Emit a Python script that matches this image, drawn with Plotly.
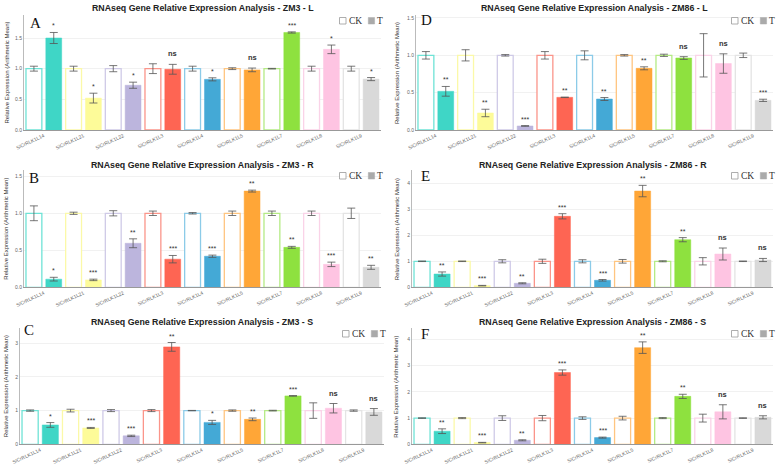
import plotly.graph_objects as go

W, H = 781, 468

genes = ["SlCrRLK1L14", "SlCrRLK1L21", "SlCrRLK1L22", "SlCrRLK1L3", "SlCrRLK1L4",
         "SlCrRLK1L5", "SlCrRLK1L7", "SlCrRLK1L8", "SlCrRLK1L9"]
gene_colors = ["#3FD6C6", "#FDFB99", "#BCB5DD", "#FE6553", "#44A9D6",
               "#FFA637", "#8EE13F", "#FEC4E2", "#D9D9D9"]
ck_line_colors = ["#6FE3D6", "#FBF9A8", "#CFCAE7", "#FB958A", "#8CCBE8",
                  "#FFC580", "#B5EB85", "#FAD3E8", "#E4E4E4"]

titles = ["RNAseq Gene Relative Expression Analysis - ZM3 - L",
          "RNAseq Gene Relative Expression Analysis - ZM3 - R",
          "RNAseq Gene Relative Expression Analysis - ZM3 - S",
          "RNAseq Gene Relative Expression Analysis - ZM86 - L",
          "RNAseq Gene Relative Expression Analysis - ZM86 - R",
          "RNAseq Gene Relative Expression Analysis - ZM86 - S"]
letters = ["A", "B", "C", "D", "E", "F"]

# ZM3 - L
zm3_l_ck = [1.0, 1.0, 1.0, 1.0, 1.0, 1.0, 1.0, 1.0, 1.0]
zm3_l_ck_err = [0.04, 0.04, 0.05, 0.08, 0.04, 0.015, 0.005, 0.04, 0.04]
zm3_l_t = [1.50, 0.52, 0.73, 0.99, 0.826, 0.98, 1.59, 1.315, 0.83]
zm3_l_t_err = [0.09, 0.08, 0.05, 0.08, 0.025, 0.03, 0.01, 0.07, 0.025]
zm3_l_sig = ["*", "*", "*", "ns", "*", "ns", "***", "*", "*"]

# ZM3 - R
zm3_r_ck = [1.0, 1.0, 1.0, 1.0, 1.0, 1.0, 1.0, 1.0, 1.0]
zm3_r_ck_err = [0.10, 0.015, 0.035, 0.03, 0.01, 0.03, 0.03, 0.03, 0.07]
zm3_r_t = [0.11, 0.10, 0.595, 0.38, 0.42, 1.30, 0.54, 0.31, 0.27]
zm3_r_t_err = [0.025, 0.01, 0.06, 0.05, 0.015, 0.013, 0.013, 0.03, 0.027]
zm3_r_sig = ["*", "***", "**", "***", "***", "**", "**", "***", "**"]

# ZM3 - S
zm3_s_ck = [1.0, 1.0, 1.0, 1.0, 1.0, 1.0, 1.0, 1.0, 1.0]
zm3_s_ck_err = [0.02, 0.04, 0.03, 0.03, 0.005, 0.02, 0.01, 0.23, 0.02]
zm3_s_t = [0.574, 0.485, 0.25, 2.89, 0.65, 0.74, 1.436, 1.07, 0.96]
zm3_s_t_err = [0.07, 0.015, 0.02, 0.13, 0.06, 0.04, 0.01, 0.14, 0.10]
zm3_s_sig = ["*", "***", "***", "**", "*", "**", "***", "ns", "ns"]

# ZM86 - L
zm86_l_ck = [1.0, 1.0, 1.0, 1.0, 1.0, 1.0, 1.0, 1.0, 1.0]
zm86_l_ck_err = [0.05, 0.075, 0.01, 0.05, 0.06, 0.01, 0.015, 0.29, 0.03]
zm86_l_t = [0.518, 0.228, 0.054, 0.4375, 0.415, 0.826, 0.964, 0.89, 0.397]
zm86_l_t_err = [0.065, 0.05, 0.005, 0.003, 0.02, 0.02, 0.018, 0.13, 0.015]
zm86_l_sig = ["**", "**", "***", "**", "**", "**", "ns", "ns", "***"]

# ZM86 - R
zm86_r_ck = [1.0, 1.0, 1.0, 1.0, 1.0, 1.0, 1.0, 1.0, 1.0]
zm86_r_ck_err = [0.01, 0.01, 0.06, 0.08, 0.06, 0.07, 0.02, 0.14, 0.01]
zm86_r_t = [0.51, 0.064, 0.154, 2.73, 0.27, 3.70, 1.83, 1.28, 1.05]
zm86_r_t_err = [0.08, 0.01, 0.02, 0.10, 0.03, 0.22, 0.08, 0.23, 0.06]
zm86_r_sig = ["**", "***", "**", "***", "***", "**", "**", "ns", "ns"]

# ZM86 - S
zm86_s_ck = [1.0, 1.0, 1.0, 1.0, 1.0, 1.0, 1.0, 1.0, 1.0]
zm86_s_ck_err = [0.01, 0.02, 0.09, 0.10, 0.05, 0.07, 0.02, 0.15, 0.01]
zm86_s_t = [0.50, 0.064, 0.153, 2.74, 0.255, 3.69, 1.83, 1.24, 1.03]
zm86_s_t_err = [0.09, 0.01, 0.02, 0.10, 0.02, 0.22, 0.08, 0.27, 0.06]
zm86_s_sig = ["**", "***", "**", "***", "***", "**", "**", "ns", "ns"]

panels_data = [
    (zm3_l_ck, zm3_l_ck_err, zm3_l_t, zm3_l_t_err, zm3_l_sig),
    (zm3_r_ck, zm3_r_ck_err, zm3_r_t, zm3_r_t_err, zm3_r_sig),
    (zm3_s_ck, zm3_s_ck_err, zm3_s_t, zm3_s_t_err, zm3_s_sig),
    (zm86_l_ck, zm86_l_ck_err, zm86_l_t, zm86_l_t_err, zm86_l_sig),
    (zm86_r_ck, zm86_r_ck_err, zm86_r_t, zm86_r_t_err, zm86_r_sig),
    (zm86_s_ck, zm86_s_ck_err, zm86_s_t, zm86_s_t_err, zm86_s_sig),
]

# layout (pixel positions of each panel)
layout_px = [
    dict(x0=24, x1=381, yt=15, yb=130, ymax=1.875, dtick=0.5, fmt=".1f", ty=8, lx=28, ly=22.7),
    dict(x0=24, x1=381, yt=170, yb=287.3, ymax=1.585, dtick=0.5, fmt=".1f", ty=165, lx=27, ly=178),
    dict(x0=20, x1=384, yt=328, yb=444.3, ymax=3.45, dtick=1, fmt="d", ty=322, lx=22, ly=329.5),
    dict(x0=416, x1=773, yt=15, yb=130, ymax=1.54, dtick=0.5, fmt=".1f", ty=8, lx=419, ly=20.5),
    dict(x0=412, x1=773, yt=170, yb=287.3, ymax=4.51, dtick=1, fmt="d", ty=165, lx=419, ly=175.5),
    dict(x0=412, x1=773, yt=328, yb=444.3, ymax=4.44, dtick=1, fmt="d", ty=322, lx=419, ly=334),
]

def px(x):
    return x / W

def py(y):
    return 1 - y / H

fig = go.Figure()
annotations = []
shapes = []

for i, ((ck, ck_err, t, t_err, sig), L) in enumerate(zip(panels_data, layout_px)):
    n = i + 1
    xa = "x" if n == 1 else f"x{n}"
    ya = "y" if n == 1 else f"y{n}"
    fig.add_trace(go.Bar(
        x=genes, y=ck, xaxis=xa, yaxis=ya, name="CK", showlegend=False,
        marker=dict(color="white", line=dict(color=ck_line_colors, width=1.3)),
        error_y=dict(type="data", array=ck_err, color="#555", thickness=0.8, width=4),
    ))
    fig.add_trace(go.Bar(
        x=genes, y=t, xaxis=xa, yaxis=ya, name="T", showlegend=False,
        marker=dict(color=gene_colors, line=dict(color=gene_colors, width=0.5)),
        error_y=dict(type="data", array=t_err, color="#555", thickness=0.8, width=4),
    ))
    xkey = "xaxis" if n == 1 else f"xaxis{n}"
    ykey = "yaxis" if n == 1 else f"yaxis{n}"
    fig.update_layout(**{
        xkey: dict(domain=[px(L["x0"]), px(L["x1"])], anchor=ya, type="category",
                   tickangle=-25, tickfont=dict(size=5, color="#666", family="Liberation Sans"),
                   showline=True, linecolor="#999", linewidth=1, showgrid=False,
                   ticks="", automargin=False, zeroline=False),
        ykey: dict(domain=[py(L["yb"]), py(L["yt"])], anchor=xa, range=[0, L["ymax"]],
                   dtick=L["dtick"], tick0=0, tickformat=L["fmt"],
                   tickfont=dict(size=5, color="#666", family="Liberation Sans"),
                   showline=True, linecolor="#bbb", linewidth=1,
                   showgrid=True, gridcolor="#f1f1f1", gridwidth=1,
                   ticks="", automargin=False, zeroline=False),
    })
    pitch = (L["x1"] - L["x0"]) / 9.0
    for g, v, e, s in zip(genes, t, t_err, sig):
        is_ns = s == "ns"
        annotations.append(dict(
            x=g, y=v + e, xref=xa, yref=ya, text=f"<b>{s}</b>" if is_ns else s,
            showarrow=False, xshift=pitch / 4, yanchor="bottom",
            yshift=4 if is_ns else 1,
            font=dict(size=7.5 if is_ns else 7, color="#333", family="Liberation Sans"),
        ))
    # title
    annotations.append(dict(
        x=px((L["x0"] + L["x1"]) / 2), y=py(L["ty"]), xref="paper", yref="paper",
        text=f"<b>{titles[i]}</b>", showarrow=False, xanchor="center", yanchor="middle",
        font=dict(size=8.8, color="#222", family="Liberation Sans"),
    ))
    # y axis title
    annotations.append(dict(
        x=px(6 if L["x0"] < 200 else 396.5), y=py((L["yt"] + L["yb"]) / 2),
        xref="paper", yref="paper", text="Relative Expression (Arithmetic Mean)",
        textangle=-90, showarrow=False, xanchor="center", yanchor="middle",
        font=dict(size=6, color="#333", family="Liberation Sans"),
    ))
    # panel letter
    annotations.append(dict(
        x=px(L["lx"]), y=py(L["ly"]), xref="paper", yref="paper", text=letters[i],
        showarrow=False, xanchor="left", yanchor="middle",
        font=dict(size=15, color="#111", family="Liberation Serif"),
    ))
    # legend (CK / T)
    x1 = L["x1"]
    by0 = L["yt"] + 2.5
    by1 = L["yt"] + 9
    shapes.append(dict(type="rect", xref="paper", yref="paper",
                       x0=px(x1 - 41.5), x1=px(x1 - 35), y0=py(by1), y1=py(by0),
                       line=dict(color="#999", width=0.8), fillcolor="white"))
    shapes.append(dict(type="rect", xref="paper", yref="paper",
                       x0=px(x1 - 12.7), x1=px(x1 - 6.4), y0=py(by1), y1=py(by0),
                       line=dict(color="#aaa", width=0.5), fillcolor="#aaaaaa"))
    annotations.append(dict(
        x=px(x1 - 34), y=py((by0 + by1) / 2), xref="paper", yref="paper", text="CK",
        showarrow=False, xanchor="left", yanchor="middle",
        font=dict(size=9.5, color="#333", family="Liberation Serif"),
    ))
    annotations.append(dict(
        x=px(x1 - 6), y=py((by0 + by1) / 2), xref="paper", yref="paper", text="T",
        showarrow=False, xanchor="left", yanchor="middle",
        font=dict(size=9.5, color="#333", family="Liberation Serif"),
    ))

fig.update_layout(
    width=W, height=H, margin=dict(l=0, r=0, t=0, b=0),
    paper_bgcolor="white", plot_bgcolor="white",
    barmode="group", bargap=0.0, bargroupgap=0.2,
    annotations=annotations, shapes=shapes, showlegend=False,
)

fig.write_html("out.html")
